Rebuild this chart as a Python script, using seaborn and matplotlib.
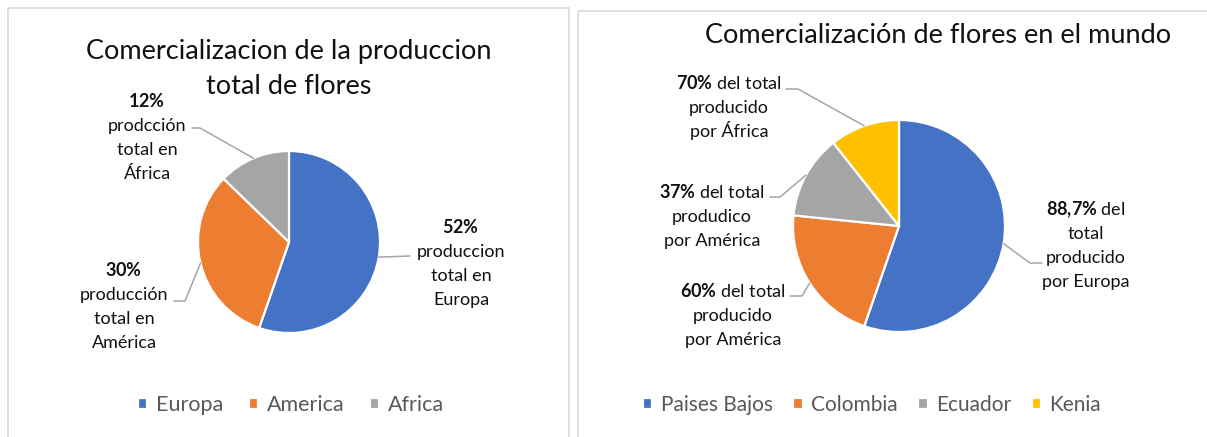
import numpy as np
import matplotlib.pyplot as plt
from matplotlib.patches import Rectangle
import seaborn as sns

# DATOS
regiones = ["Europa", "America", "Africa"]
produccion = [52, 30, 12]
etiquetas_region = [
    [r"$\mathbf{52\%}$", "produccion", "total en", "Europa"],
    [r"$\mathbf{30\%}$", "producción", "total en", "América"],
    [r"$\mathbf{12\%}$", "prodcción", "total en", "África"],
]

paises = ["Paises Bajos", "Colombia", "Ecuador", "Kenia"]
mercado = [52, 20, 12, 10]
etiquetas_pais = [
    [r"$\mathbf{88{,}7\%}$ del", "total", "producido", "por Europa"],
    [r"$\mathbf{60\%}$ del total", "producido", "por América"],
    [r"$\mathbf{37\%}$ del total", "produdico", "por América"],
    [r"$\mathbf{70\%}$ del total", "producido", "por África"],
]

titulo_1 = ["Comercializacion de la produccion", "total de flores"]
titulo_2 = ["Comercialización de flores en el mundo"]

colores = ["#4472C4", "#ED7D31", "#A5A5A5", "#FFC000"]

sns.set_theme(style="white")
plt.rcParams["font.family"] = ["Lato", "DejaVu Sans"]
plt.rcParams["mathtext.fontset"] = "custom"
plt.rcParams["mathtext.rm"] = "Lato"
plt.rcParams["mathtext.bf"] = "Lato:bold"

W, H = 1207, 437
fig = plt.figure(figsize=(W / 100, H / 100), dpi=100)
fig.patch.set_facecolor("white")

# capa en pixeles para marcos, textos y lineas guia
over = fig.add_axes([0, 0, 1, 1])
over.set_xlim(0, W)
over.set_ylim(H, 0)
over.axis("off")
over.set_zorder(5)

over.add_patch(Rectangle((8, 8), 561, 440, fill=False, edgecolor="#d9d9d9", lw=1.2))
over.add_patch(Rectangle((578, 11), 640, 440, fill=False, edgecolor="#d9d9d9", lw=1.2))


def pie_axes(cx, cy, r):
    return fig.add_axes([(cx - r) / W, (H - cy - r) / H, 2 * r / W, 2 * r / H])


def to_px(ax, x, y):
    disp = ax.transData.transform((x, y))
    return over.transData.inverted().transform(disp)


def titulo(lineas, x, y):
    for i, linea in enumerate(lineas):
        over.text(x, y + 9 + i * 35, linea, ha="center", va="baseline",
                  fontsize=19.5, color="#111111")


def draw_pie(ax, values, labels, text_pos, elbows):
    wedges, _ = ax.pie(
        values,
        colors=colores[:len(values)],
        startangle=90,
        counterclock=False,
        wedgeprops=dict(edgecolor="white", linewidth=1.6),
    )
    ax.set_xlim(-1, 1)
    ax.set_ylim(-1, 1)
    for w, lineas, (tx, ty), pts in zip(wedges, labels, text_pos, elbows):
        ang = np.deg2rad((w.theta1 + w.theta2) / 2)
        ex, ey = to_px(ax, np.cos(ang), np.sin(ang))
        xs = [ex] + [p[0] for p in pts]
        ys = [ey] + [p[1] for p in pts]
        over.plot(xs, ys, color="#a6a6a6", lw=1.1)
        for i, linea in enumerate(lineas):
            over.text(tx, ty + 6 + i * 24, linea, ha="center", va="baseline",
                      fontsize=13, color="#111111")
    return wedges


# GRAFICO 1
ax1 = pie_axes(289, 242, 91)
w1 = draw_pie(
    ax1, produccion, etiquetas_region,
    [(461, 227), (124, 270), (147, 101)],
    [[(410, 256)], [(185, 301), (174, 301)], [(200, 128), (192, 128)]],
)
titulo(titulo_1, 289, 50)
fig.legend(w1, regiones, loc="center", bbox_to_anchor=(291 / W, 1 - 405 / H),
           ncol=3, frameon=False, fontsize=15.5, handlelength=0.42, handleheight=0.42,
           handletextpad=0.4, columnspacing=1.2, labelcolor="#595959")

# GRAFICO 2
ax2 = pie_axes(899, 226, 106)
w2 = draw_pie(
    ax2, mercado, etiquetas_pais,
    [(1086, 209), (733, 291), (712, 192), (729, 83)],
    [[(1030, 263), (1042, 263)], [(802, 296), (790, 296)],
     [(780, 197), (770, 197)], [(798, 89), (786, 89)]],
)
titulo(titulo_2, 938, 34)
fig.legend(w2, paises, loc="center", bbox_to_anchor=(872 / W, 1 - 405 / H),
           ncol=4, frameon=False, fontsize=15, handlelength=0.44, handleheight=0.44,
           handletextpad=0.4, columnspacing=1.0, labelcolor="#595959")

fig.savefig("out.png", dpi=100)
